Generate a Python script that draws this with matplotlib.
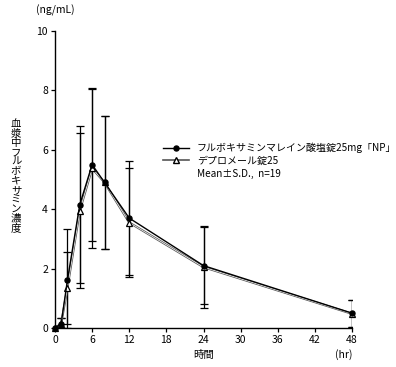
import matplotlib
matplotlib.use("Agg")
import matplotlib.pyplot as plt
from matplotlib.lines import Line2D

plt.rcParams['font.family'] = ['Noto Sans CJK JP', 'DejaVu Sans']

time_hr = [0, 1, 2, 4, 6, 8, 12, 24, 48]
np_mean = [0.0, 0.15, 1.6, 4.15, 5.5, 4.9, 3.7, 2.1, 0.5]
np_sd = [0.0, 0.2, 1.73, 2.65, 2.58, 2.25, 1.92, 1.3, 0.45]
ref_mean = [0.0, 0.15, 1.35, 3.95, 5.38, 4.9, 3.55, 2.05, 0.48]
ref_sd = [0.0, 0.2, 1.2, 2.6, 2.68, 2.25, 1.83, 1.38, 0.45]
x_ticks = [0, 6, 12, 18, 24, 30, 36, 42, 48]
y_ticks = [0, 2, 4, 6, 8, 10]
label_np = 'フルボキサミンマレイン酸塩錠25mg「NP」'
label_ref = 'デプロメール錠25'
note = 'Mean±S.D.,  n=19'
ylabel = '血漿中フルボキサミン濃度'

fig = plt.figure(figsize=(3.96, 3.67), dpi=100)
ax = fig.add_axes([55/396, 1-328/367, (352-55)/396, (328-31)/367])

def draw_err(m, s):
    xs = [t for t, s_ in zip(time_hr, s) if s_ > 0]
    ms_ = [m_ for m_, s_ in zip(m, s) if s_ > 0]
    lo = [min(s_, m_) for m_, s_ in zip(m, s) if s_ > 0]
    hi = [s_ for s_ in s if s_ > 0]
    ax.errorbar(xs, ms_, yerr=[lo, hi], fmt='none', ecolor='black',
                elinewidth=0.9, capsize=3, capthick=0.9, zorder=1)

draw_err(ref_mean, ref_sd)
draw_err(np_mean, np_sd)
ax.plot(time_hr, ref_mean, color='#555555', lw=1.6, zorder=2, clip_on=False)
ax.plot(time_hr, ref_mean, color='white', lw=0.5, zorder=2.1, clip_on=False)
ax.plot(time_hr, ref_mean, ls='none', marker='^', ms=4, mfc='white', mec='black',
        mew=0.9, zorder=2.2, clip_on=False)
ax.plot(time_hr, np_mean, color='black', lw=1.0, marker='o', ms=3.6, mfc='black',
        mec='black', zorder=3, clip_on=False)

ax.set_xlim(0, 48)
ax.set_ylim(0, 10)
ax.set_xticks(x_ticks)
ax.set_yticks(y_ticks)
ax.spines['top'].set_visible(False)
ax.spines['right'].set_visible(False)
ax.spines['left'].set_linewidth(1.0)
ax.spines['bottom'].set_linewidth(1.0)
ax.tick_params(direction='out', length=3, width=0.9, labelsize=7.5, pad=2)

handles = [Line2D([], [], color='black', lw=1, marker='o', ms=3.6, mfc='black'),
           Line2D([], [], color='#555555', lw=1.2, marker='^', ms=4, mfc='white', mec='black')]
leg = ax.legend(handles, [label_np, label_ref], loc='upper left',
                bbox_to_anchor=(163/396, 1-143/367), bbox_transform=fig.transFigure,
                frameon=False, fontsize=7.2, handlelength=2.6, handletextpad=0.8,
                labelspacing=0.2, borderpad=0, borderaxespad=0)
fig.text(197/396, 1-174/367, note, fontsize=7.2, va='center', ha='left')

fig.text(55/396, 1-10/367, '(ng/mL)', fontsize=7.5, ha='center', va='center')
fig.text(344/396, 1-355/367, '(hr)', fontsize=7.5, ha='center', va='center')
fig.text(204/396, 1-355/367, '時間', fontsize=7.5, ha='center', va='center')
fig.text(16/396, 1-176/367, '\n'.join(ylabel), fontsize=7.5, ha='center', va='center',
         linespacing=0.93)

fig.savefig('out.png', dpi=100)
